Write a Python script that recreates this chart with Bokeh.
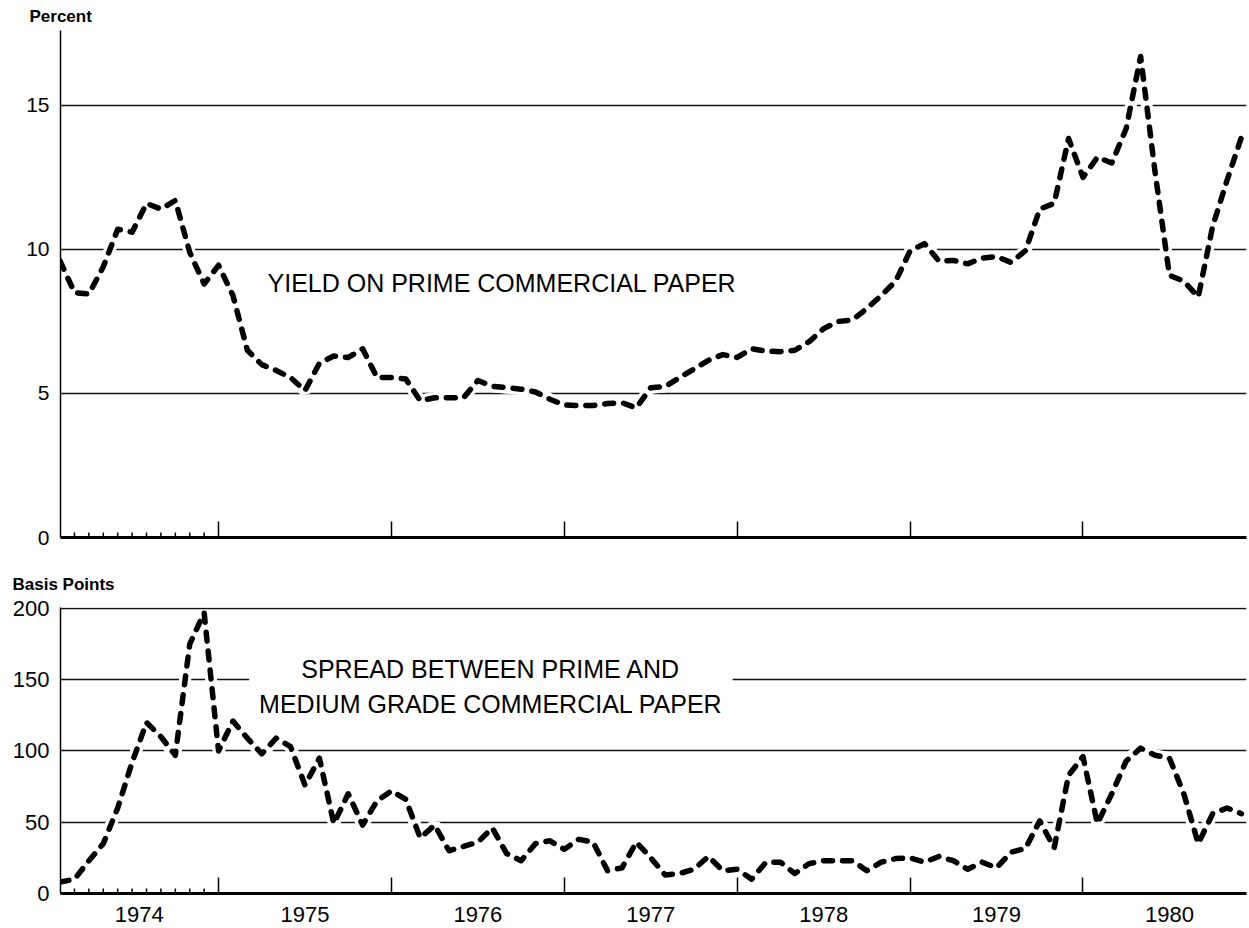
from bokeh.plotting import figure
from bokeh.models import Range1d, FixedTicker, LinearAxis, Label
from bokeh.layouts import column
from bokeh.embed import file_html
from bokeh.resources import INLINE

# months since Jan 1974 (1 = Feb 1974 ... 83 = Dec 1980)
months = list(range(1, 84))

yield_pct = [9.6, 8.5, 8.45, 9.4, 10.7, 10.6, 11.6, 11.4, 11.7, 9.9,
             8.8, 9.45, 8.4, 6.5, 6.0, 5.8, 5.55, 5.1, 6.05, 6.3,
             6.25, 6.55, 5.55, 5.55, 5.5, 4.75, 4.85, 4.85, 4.85, 5.45,
             5.25, 5.2, 5.15, 5.05, 4.8, 4.6, 4.58, 4.58, 4.65, 4.68,
             4.5, 5.2, 5.24, 5.55, 5.85, 6.15, 6.35, 6.25, 6.55, 6.47,
             6.45, 6.5, 6.8, 7.25, 7.5, 7.55, 7.95, 8.4, 8.9, 9.95,
             10.2, 9.6, 9.62, 9.5, 9.7, 9.75, 9.55, 9.95, 11.4, 11.6,
             13.85, 12.5, 13.2, 13.0, 14.2, 16.7, 12.7, 9.1, 8.9, 8.35,
             10.8, 12.4, 13.9]

spread_bp = [8, 10, 23, 35, 60, 92, 120, 110, 97, 175,
             197, 100, 121, 109, 98, 109, 103, 76, 95, 49,
             70, 48, 65, 72, 66, 39, 48, 30, 33, 36,
             46, 28, 23, 35, 37, 31, 38, 36, 16, 18,
             36, 25, 13, 14, 17, 26, 16, 17, 10, 22,
             22, 14, 21, 23, 23, 23, 16, 22, 24.5, 25,
             22, 26, 23, 17, 22, 18, 29, 31.5, 51, 32,
             83, 96, 49, 70, 93, 102, 97, 95, 70, 35,
             56, 60, 56]

year_bounds = [12, 24, 36, 48, 60, 72]
month_ticks_1974 = [2, 3, 4, 5, 6, 7, 8, 9, 10, 11]
year_label_pos = [6.5, 18, 30, 42, 54, 66, 78]
year_labels = ["1974", "1975", "1976", "1977", "1978", "1979", "1980"]

top_ticks = [0, 5, 10, 15]
bottom_ticks = [0, 50, 100, 150, 200]

FONT = "Liberation Sans"
X0, X1 = 1.03, 83.35


def base_fig(frame_h, y_max, title, min_top, min_bottom, yticks, ysize,
             title_offset, title_standoff):
    p = figure(frame_width=1186, frame_height=frame_h,
               x_range=Range1d(X0, X1), y_range=Range1d(0, y_max),
               output_backend="svg", toolbar_location=None,
               min_border_left=60, min_border_right=3,
               min_border_top=min_top, min_border_bottom=min_bottom,
               title=title)
    p.outline_line_color = None
    p.background_fill_color = "white"
    p.border_fill_color = "white"
    p.title.text_font = FONT
    p.title.text_font_size = "17px"
    p.title.text_font_style = "bold"
    p.title.text_color = "black"
    p.title.align = "left"
    p.title.offset = title_offset
    p.title.standoff = title_standoff
    p.xgrid.visible = False
    p.ygrid.ticker = FixedTicker(ticks=yticks)
    p.ygrid.grid_line_color = "#111111"
    p.ygrid.grid_line_width = 1.3
    ya = p.yaxis[0]
    ya.ticker = FixedTicker(ticks=yticks)
    ya.axis_line_width = 1.5
    ya.axis_line_color = "black"
    ya.major_tick_in = 0
    ya.major_tick_out = 0
    ya.minor_tick_line_color = None
    ya.major_label_text_font = FONT
    ya.major_label_text_font_size = ysize
    ya.major_label_text_color = "black"
    ya.major_label_standoff = 11
    # bottom axis: thick line with year-boundary ticks pointing inward, no labels
    xa = p.xaxis[0]
    xa.ticker = FixedTicker(ticks=[], minor_ticks=year_bounds)
    xa.axis_line_width = 3
    xa.axis_line_color = "black"
    xa.major_tick_line_color = None
    xa.minor_tick_in = 16
    xa.minor_tick_out = 0
    xa.minor_tick_line_width = 1.5
    xa.minor_tick_line_color = "black"
    xa.major_label_standoff = 0
    # short monthly ticks during 1974
    tick_h = 5.0 * y_max / frame_h
    p.segment(x0=month_ticks_1974, y0=[0] * len(month_ticks_1974),
              x1=month_ticks_1974, y1=[tick_h] * len(month_ticks_1974),
              line_color="black", line_width=1.5)
    return p


def draw_series(p, xs, ys):
    p.line(xs, ys, line_color="white", line_width=12)
    p.line(xs, ys, line_color="black", line_width=5.5, line_dash="9 10",
           line_cap="round", line_join="round")


# ---- top panel
p1 = base_fig(507, 17.6, "Percent", 30, 20, top_ticks, "21px", -31, 9)
draw_series(p1, months, yield_pct)
p1.add_layout(Label(x=15.4, y=8.85, text="YIELD ON PRIME COMMERCIAL PAPER",
                    text_font=FONT, text_font_size="25px", text_color="black",
                    text_align="left", text_baseline="middle"))

# ---- bottom panel
p2 = base_fig(286, 200.7, "Basis Points", 50, 35, bottom_ticks, "22px", -48, 27)
draw_series(p2, months, spread_bp)
p2.add_layout(Label(x=30.9, y=145.3,
                    text="SPREAD BETWEEN PRIME AND\nMEDIUM GRADE COMMERCIAL PAPER",
                    text_font=FONT, text_font_size="25px", text_color="black",
                    text_align="center", text_baseline="middle",
                    text_line_height=1.25,
                    background_fill_color="white", padding=10))

lab_axis = LinearAxis(ticker=FixedTicker(ticks=year_label_pos),
                      major_label_overrides={k: v for k, v in zip(year_label_pos, year_labels)},
                      axis_line_color=None, major_tick_line_color=None,
                      minor_tick_line_color=None,
                      major_label_text_font=FONT, major_label_text_font_size="22px",
                      major_label_text_color="black", major_label_standoff=7)
p2.add_layout(lab_axis, "below")

layout = column(p1, p2, spacing=0)
open("out.html", "w").write(file_html(layout, INLINE))
